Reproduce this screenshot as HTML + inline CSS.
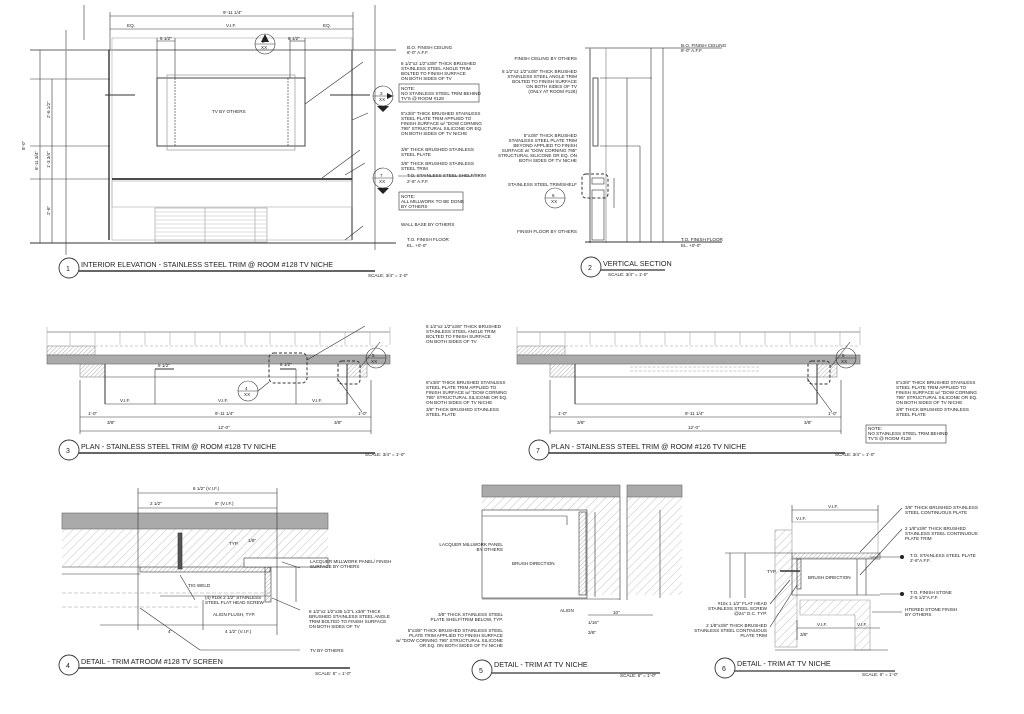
<!DOCTYPE html>
<html><head><meta charset="utf-8"><style>
html,body{margin:0;padding:0;background:#fff}
svg{display:block}
text{font-family:"Liberation Sans",sans-serif;fill:#222}
.s{font-size:4.6px}
.t{font-size:7.2px}
.c{font-size:7px}
</style></head><body>
<svg width="1024" height="714" viewBox="0 0 1024 714" xmlns="http://www.w3.org/2000/svg">
<defs>
<pattern id="h" width="6" height="6" patternUnits="userSpaceOnUse" patternTransform="rotate(45)"><line x1="0" y1="0" x2="0" y2="6" stroke="#999" stroke-width="0.6"/></pattern>
<pattern id="hd" width="3" height="3" patternUnits="userSpaceOnUse" patternTransform="rotate(45)"><line x1="0" y1="0" x2="0" y2="3" stroke="#777" stroke-width="0.6"/></pattern>
</defs>
<g stroke="#333" stroke-width="0.6" fill="none">
<!-- PANEL 1 -->
<line x1="66" y1="30" x2="66" y2="255"/><line x1="375" y1="5" x2="375" y2="250"/>
<line x1="84" y1="5" x2="84" y2="40"/>
<line x1="30" y1="50" x2="396" y2="50" stroke="#999" stroke-width="1.5"/>
<line x1="30" y1="243" x2="396" y2="243" stroke-width="1"/>
<line x1="109" y1="50" x2="109" y2="240" stroke-width="1.4"/>
<line x1="352" y1="50" x2="352" y2="240" stroke-width="1.4"/>
<rect x="112" y="38" width="240" height="202" stroke="#aaa"/>
<line x1="110" y1="16" x2="353" y2="16"/><line x1="110" y1="29" x2="353" y2="29"/>
<line x1="110" y1="12" x2="110" y2="50"/><line x1="353" y1="12" x2="353" y2="50"/>
<line x1="157" y1="41" x2="175" y2="41"/><line x1="290" y1="41" x2="305" y2="41"/>
<line x1="157" y1="38" x2="157" y2="78"/><line x1="175" y1="38" x2="175" y2="78"/>
<line x1="290" y1="38" x2="290" y2="78"/><line x1="305" y1="38" x2="305" y2="78"/>
<rect x="157" y="78" width="148" height="68" stroke-width="0.9"/>
<rect x="167" y="75" width="128" height="75" stroke="#888"/>
<line x1="175" y1="78" x2="175" y2="146" stroke-dasharray="2 1"/><line x1="288" y1="78" x2="288" y2="146" stroke-dasharray="2 1"/>
<line x1="112" y1="179" x2="352" y2="179" stroke-width="1.8"/>
<rect x="112" y="181" width="240" height="26" stroke="#aaa"/>
<rect x="155" y="208" width="112" height="34" stroke="#999"/>
<line x1="205" y1="208" x2="205" y2="242" stroke="#999"/><line x1="255" y1="208" x2="255" y2="242" stroke="#999"/>
<path d="M155 212H267M155 216H267M155 220H267M155 224H267M155 228H267M155 232H267M155 236H267M155 240H267" stroke="#bbb"/>
<line x1="30" y1="79" x2="110" y2="79"/><line x1="30" y1="146" x2="110" y2="146"/><line x1="30" y1="179" x2="110" y2="179"/>
<line x1="52" y1="79" x2="52" y2="243"/><line x1="40" y1="50" x2="40" y2="243"/>
<line x1="105" y1="95" x2="135" y2="95" stroke-width="1"/>
<line x1="330" y1="95" x2="370" y2="95" stroke-width="1"/>
<circle cx="265" cy="44" r="10"/><line x1="255" y1="44" x2="275" y2="44"/>
<circle cx="383" cy="96" r="10"/><line x1="373" y1="96" x2="393" y2="96"/>
<circle cx="383" cy="178" r="10"/><line x1="373" y1="178" x2="393" y2="178"/>
<line x1="305" y1="104" x2="363" y2="62"/><line x1="352" y1="120" x2="368" y2="113"/>
<line x1="322" y1="178" x2="360" y2="150"/><line x1="345" y1="175" x2="365" y2="163"/>
<line x1="345" y1="240" x2="363" y2="226"/>
<rect x="399" y="84" width="80" height="18"/><rect x="399" y="192" width="64" height="18"/>
<line x1="398" y1="176" x2="480" y2="176"/>
<circle cx="69" cy="268" r="10" stroke-width="0.9"/>
<line x1="79" y1="271" x2="375" y2="271" stroke-width="1.4"/>
<!-- PANEL 2 -->
<line x1="590" y1="48" x2="590" y2="243" stroke="#777" stroke-width="1.2"/>
<line x1="606" y1="48" x2="606" y2="243" stroke="#777"/>
<rect x="593" y="78" width="5" height="68" stroke-width="0.8"/>
<line x1="585" y1="48" x2="722" y2="48" stroke="#999" stroke-width="1.3"/>
<line x1="585" y1="242" x2="722" y2="242" stroke-width="1"/>
<rect x="592" y="178" width="12" height="6"/><rect x="592" y="190" width="12" height="50"/>
<rect x="582" y="174" width="26" height="24" rx="4" stroke-dasharray="3 2" stroke-width="1"/>
<circle cx="555" cy="198" r="10"/><line x1="545" y1="198" x2="565" y2="198"/>
<line x1="627" y1="78" x2="627" y2="242"/><line x1="640" y1="146" x2="640" y2="242"/>
<line x1="651" y1="48" x2="651" y2="242"/><line x1="663" y1="48" x2="663" y2="242"/>
<line x1="600" y1="78" x2="652" y2="78"/><line x1="600" y1="146" x2="640" y2="146"/>
<line x1="614" y1="178" x2="614" y2="208"/>
<circle cx="591" cy="267" r="10" stroke-width="0.9"/>
<line x1="601" y1="270" x2="665" y2="270" stroke-width="1.3"/>
<!-- PANEL 3 -->
<g id="plan">
<line x1="47" y1="332" x2="390" y2="332"/>
<path d="M47 327V345M70 332V345M95 332V345M120 332V345M145 332V345M170 332V345M195 332V345M220 332V345M245 332V345M270 332V345M295 332V345M320 332V345M345 332V345M370 332V345M390 327V345" stroke="#aaa"/>
<rect x="47" y="346" width="48" height="9" fill="url(#hd)" stroke="#888"/>
<line x1="95" y1="346" x2="390" y2="346" stroke-dasharray="3 2" stroke="#999"/>
<rect x="47" y="355" width="343" height="9" fill="#aaa" stroke="#666"/>
<rect x="80" y="364" width="25" height="13" fill="url(#hd)" stroke="#888"/>
<rect x="347" y="364" width="20" height="13" fill="url(#hd)" stroke="#888"/>
<line x1="105" y1="377" x2="347" y2="377"/>
<line x1="105" y1="364" x2="105" y2="404" stroke-width="1"/><line x1="347" y1="364" x2="347" y2="404" stroke-width="1"/>
<line x1="80" y1="380" x2="80" y2="434"/><line x1="371" y1="380" x2="371" y2="434"/>
<line x1="80" y1="417" x2="371" y2="417"/><line x1="80" y1="431" x2="371" y2="431"/>
<line x1="105" y1="404" x2="347" y2="404"/>
<rect x="338" y="361" width="22" height="23" rx="4" stroke-dasharray="3 2" stroke-width="1"/>
<circle cx="376" cy="358" r="10"/><line x1="366" y1="358" x2="386" y2="358"/>
<line x1="360" y1="368" x2="380" y2="342"/><line x1="337" y1="378" x2="362" y2="412"/>
<circle cx="69" cy="450" r="10" stroke-width="0.9"/>
<line x1="79" y1="453" x2="375" y2="453" stroke-width="1.4"/>
</g>
<line x1="155" y1="369" x2="174" y2="369" stroke-width="1"/><line x1="155" y1="369" x2="155" y2="404"/>
<rect x="269" y="353" width="38" height="30" rx="5" stroke-dasharray="3 2" stroke-width="1"/>
<line x1="280" y1="369" x2="296" y2="369" stroke-width="1"/>
<line x1="296" y1="369" x2="296" y2="404"/>
<circle cx="248" cy="391" r="10"/><line x1="238" y1="391" x2="258" y2="391"/>
<line x1="258" y1="391" x2="269" y2="382"/><line x1="307" y1="360" x2="365" y2="326"/>
<!-- PANEL 7 -->
<use href="#plan" x="470"/>
<line x1="630" y1="367" x2="760" y2="367" stroke-dasharray="3 1.5" stroke="#999"/>
<line x1="630" y1="371" x2="760" y2="371" stroke-dasharray="3 1.5" stroke="#999"/>
<rect x="866" y="425" width="80" height="18"/>
<!-- PANEL 4 -->
<rect x="62" y="513" width="266" height="16" fill="#aaa" stroke="#666"/>
<rect x="62" y="529" width="266" height="38" fill="url(#h)" stroke="none"/>
<line x1="62" y1="567" x2="140" y2="567"/>
<rect x="140" y="567" width="130" height="5" fill="url(#hd)"/>
<rect x="265" y="567" width="6" height="35" fill="url(#hd)"/>
<rect x="178" y="533" width="4" height="36" fill="#555"/>
<rect x="244" y="558" width="84" height="9" fill="#fff"/>
<line x1="62" y1="574" x2="140" y2="574"/>
<line x1="62" y1="593" x2="270" y2="593" stroke-dasharray="4 2" stroke="#999"/>
<line x1="62" y1="607" x2="200" y2="607" stroke-dasharray="4 2" stroke="#999"/>
<line x1="138" y1="493" x2="277" y2="493"/><line x1="138" y1="508" x2="277" y2="508"/>
<line x1="138" y1="488" x2="138" y2="630"/><line x1="277" y1="488" x2="277" y2="635"/>
<line x1="160" y1="596" x2="270" y2="596"/>
<line x1="100" y1="625" x2="277" y2="625"/><line x1="203" y1="600" x2="203" y2="630"/>
<line x1="296" y1="567" x2="296" y2="602"/>
<line x1="140" y1="608" x2="200" y2="650"/><line x1="200" y1="650" x2="300" y2="650"/>
<line x1="282" y1="562" x2="300" y2="568"/><line x1="272" y1="598" x2="300" y2="610"/>
<line x1="180" y1="575" x2="195" y2="600"/>
<circle cx="69" cy="665" r="10" stroke-width="0.9"/>
<line x1="79" y1="668" x2="350" y2="668" stroke-width="1.4"/>
<!-- PANEL 5 -->
<rect x="482" y="485" width="138" height="12" fill="#aaa" stroke="#666"/>
<rect x="627" y="485" width="55" height="12" fill="#aaa" stroke="#666"/>
<rect x="482" y="497" width="138" height="98" fill="url(#h)" stroke="none"/>
<rect x="627" y="497" width="55" height="98" fill="url(#h)" stroke="none"/>
<rect x="482" y="510" width="105" height="88" fill="#fff"/>
<rect x="579" y="512" width="7" height="83" fill="url(#hd)"/>
<line x1="482" y1="599" x2="620" y2="599"/><line x1="620" y1="497" x2="620" y2="600"/><line x1="627" y1="497" x2="627" y2="600"/>
<line x1="482" y1="516" x2="567" y2="516"/><line x1="567" y1="516" x2="567" y2="525"/>
<line x1="595" y1="512" x2="595" y2="597"/>
<line x1="588" y1="615" x2="653" y2="615"/><line x1="660" y1="510" x2="660" y2="598"/>
<circle cx="482" cy="670" r="10" stroke-width="0.9"/>
<line x1="492" y1="673" x2="660" y2="673" stroke-width="1.3"/>
<!-- PANEL 6 -->
<rect x="775" y="530" width="22" height="117" fill="url(#h)" stroke="#999"/>
<rect x="792" y="522" width="86" height="36" fill="#fff" stroke="#999"/>
<rect x="792" y="553" width="88" height="6" fill="url(#hd)" stroke="#555"/>
<line x1="792" y1="559" x2="792" y2="595"/><line x1="857" y1="559" x2="857" y2="595"/>
<line x1="792" y1="595" x2="880" y2="595"/>
<path d="M800 600H870V650H855V615H800Z" fill="url(#h)" stroke="#999"/>
<rect x="797" y="559" width="4" height="30" fill="url(#hd)"/>
<line x1="780" y1="571" x2="800" y2="571" stroke-width="1.5"/>
<line x1="792" y1="510" x2="878" y2="510"/><line x1="792" y1="505" x2="792" y2="522"/><line x1="878" y1="505" x2="878" y2="522"/>
<line x1="730" y1="553" x2="730" y2="598"/><line x1="745" y1="553" x2="745" y2="598"/><line x1="725" y1="553" x2="792" y2="553"/>
<line x1="866" y1="559" x2="866" y2="595"/>
<line x1="797" y1="628" x2="880" y2="628"/><line x1="797" y1="620" x2="797" y2="640"/>
<line x1="775" y1="650" x2="888" y2="650"/>
<line x1="900" y1="557" x2="870" y2="557"/><line x1="900" y1="594" x2="880" y2="594"/>
<circle cx="725" cy="668" r="10" stroke-width="0.9"/>
<line x1="735" y1="671" x2="895" y2="671" stroke-width="1.3"/>
<line x1="860" y1="552" x2="902" y2="508"/><line x1="860" y1="575" x2="902" y2="529"/>
<line x1="770" y1="604" x2="790" y2="580"/><line x1="770" y1="627" x2="797" y2="585"/>
<line x1="872" y1="612" x2="902" y2="612"/>
</g>
<g fill="#222">
<path d="M265 34l-4 8h8z M393 96l-6 -3v6z"/>
<path d="M377 106l6 6 6-6z M377 188l6 6 6-6z"/>
<circle cx="902" cy="557" r="2"/><circle cx="902" cy="594" r="2"/>
</g>
<!-- TEXT -->
<text class="s" x="223" y="14">9'-11 1/4"</text>
<text class="s" x="127" y="27">EQ.</text><text class="s" x="226" y="27">V.I.F.</text><text class="s" x="323" y="27">EQ.</text>
<text class="s" x="160" y="40">8 1/2"</text><text class="s" x="288" y="40">8 1/2"</text>
<text class="s" x="262" y="43">2</text><text class="s" x="261" y="49">XX</text>
<text class="s" x="380" y="95">3</text><text class="s" x="379" y="101">XX</text>
<text class="s" x="380" y="177">7</text><text class="s" x="379" y="183">XX</text>
<text class="s" x="212" y="113">TV BY OTHERS</text>
<text class="s" x="407" y="49">B.O. FINISH CEILING</text><text class="s" x="407" y="54">8'-0" A.F.F.</text>
<text class="s" x="401" y="65">8 1/2"x2 1/2"x3/8" THICK BRUSHED</text><text class="s" x="401" y="70">STAINLESS STEEL ANGLE TRIM</text><text class="s" x="401" y="75">BOLTED TO FINISH SURFACE</text><text class="s" x="401" y="80">ON BOTH SIDES OF TV</text>
<text class="s" x="401" y="90">NOTE:</text><text class="s" x="401" y="95">NO STAINLESS STEEL TRIM BEHIND</text><text class="s" x="401" y="100">TV'S @ ROOM #128</text>
<text class="s" x="401" y="115">5"x3/8" THICK BRUSHED STAINLESS</text><text class="s" x="401" y="120">STEEL PLATE TRIM APPLIED TO</text><text class="s" x="401" y="125">FINISH SURFACE w/ "DOW CORNING</text><text class="s" x="401" y="130">795" STRUCTURAL SILICONE OR EQ.</text><text class="s" x="401" y="135">ON BOTH SIDES OF TV NICHE</text>
<text class="s" x="401" y="151">3/8" THICK BRUSHED STAINLESS</text><text class="s" x="401" y="156">STEEL PLATE</text>
<text class="s" x="401" y="165">3/8" THICK BRUSHED STAINLESS</text><text class="s" x="401" y="170">STEEL TRIM</text>
<text class="s" x="407" y="177">T.O. STAINLESS STEEL SHELF/TRIM</text><text class="s" x="407" y="183">2'-6" A.F.F.</text>
<text class="s" x="401" y="198">NOTE:</text><text class="s" x="401" y="203">ALL MILLWORK TO BE DONE</text><text class="s" x="401" y="208">BY OTHERS</text>
<text class="s" x="401" y="226">WALL BASE BY OTHERS</text>
<text class="s" x="407" y="241">T.O. FINISH FLOOR</text><text class="s" x="407" y="247">EL. +0'-0"</text>
<text class="s" transform="translate(50,118) rotate(-90)">2'-6 1/2"</text>
<text class="s" transform="translate(50,168) rotate(-90)">1'-3 3/4"</text>
<text class="s" transform="translate(50,215) rotate(-90)">2'-6"</text>
<text class="s" transform="translate(38,170) rotate(-90)">6'-11 3/4"</text>
<text class="s" transform="translate(25,150) rotate(-90)">8'-0"</text>
<text class="c" x="66" y="271">1</text>
<text class="t" x="81" y="267">INTERIOR ELEVATION - STAINLESS STEEL TRIM @ ROOM #128 TV NICHE</text>
<text class="s" x="368" y="277">SCALE: 3/4" = 1'-0"</text>
<!-- P2 text -->
<text class="s" x="681" y="47">B.O. FINISH CEILING</text><text class="s" x="681" y="52">8'-0" A.F.F.</text>
<text class="s" x="681" y="241">T.O. FINISH FLOOR</text><text class="s" x="681" y="247">EL. +0'-0"</text>
<g text-anchor="end">
<text class="s" x="577" y="60">FINISH CEILING BY OTHERS</text>
<text class="s" x="577" y="73">8 1/2"x2 1/2"x3/8" THICK BRUSHED</text><text class="s" x="577" y="78">STAINLESS STEEL ANGLE TRIM</text><text class="s" x="577" y="83">BOLTED TO FINISH SURFACE</text><text class="s" x="577" y="88">ON BOTH SIDES OF TV</text><text class="s" x="577" y="93">(ONLY AT ROOM #128)</text>
<text class="s" x="577" y="137">5"x3/8" THICK BRUSHED</text><text class="s" x="577" y="142">STAINLESS STEEL PLATE TRIM</text><text class="s" x="577" y="147">BEYOND APPLIED TO FINISH</text><text class="s" x="577" y="152">SURFACE w/ "DOW CORNING 795"</text><text class="s" x="577" y="157">STRUCTURAL SILICONE OR EQ. ON</text><text class="s" x="577" y="162">BOTH SIDES OF TV NICHE</text>
<text class="s" x="577" y="186">STAINLESS STEEL TRIM/SHELF</text>
<text class="s" x="577" y="233">FINISH FLOOR BY OTHERS</text>
</g>
<text class="s" x="552" y="197">6</text><text class="s" x="551" y="203">XX</text>
<text class="c" x="588" y="270">2</text>
<text class="t" x="603" y="266">VERTICAL SECTION</text>
<text class="s" x="608" y="276">SCALE: 3/4" = 1'-0"</text>
<!-- P3 text -->
<text class="s" x="426" y="328">8 1/2"x2 1/2"x3/8" THICK BRUSHED</text><text class="s" x="426" y="333">STAINLESS STEEL ANGLE TRIM</text><text class="s" x="426" y="338">BOLTED TO FINISH SURFACE</text><text class="s" x="426" y="343">ON BOTH SIDES OF TV</text>
<g id="pt">
<text class="s" x="426" y="384">5"x3/8" THICK BRUSHED STAINLESS</text><text class="s" x="426" y="389">STEEL PLATE TRIM APPLIED TO</text><text class="s" x="426" y="394">FINISH SURFACE w/ "DOW CORNING</text><text class="s" x="426" y="399">795" STRUCTURAL SILICONE OR EQ.</text><text class="s" x="426" y="404">ON BOTH SIDES OF TV NICHE</text>
<text class="s" x="426" y="411">3/8" THICK BRUSHED STAINLESS</text><text class="s" x="426" y="416">STEEL PLATE</text>
<text class="s" x="372" y="357">5</text><text class="s" x="371" y="363">XX</text>
<text class="s" x="88" y="415">1'-0"</text><text class="s" x="215" y="415">9'-11 1/4"</text><text class="s" x="358" y="415">1'-0"</text>
<text class="s" x="218" y="429">12'-0"</text><text class="s" x="107" y="424">3/8"</text><text class="s" x="334" y="424">3/8"</text>
<text class="s" x="365" y="456">SCALE: 3/4" = 1'-0"</text>
</g>
<text class="s" x="120" y="402">V.I.F.</text><text class="s" x="218" y="402">V.I.F.</text><text class="s" x="312" y="402">V.I.F.</text>
<text class="s" x="158" y="367">8 1/2"</text><text class="s" x="280" y="366">8 1/2"</text>
<text class="s" x="245" y="390">4</text><text class="s" x="244" y="396">XX</text>
<text class="c" x="66" y="453">3</text>
<text class="t" x="81" y="449">PLAN - STAINLESS STEEL TRIM @ ROOM #128 TV NICHE</text>
<use href="#pt" x="470"/>
<text class="s" x="868" y="430">NOTE:</text><text class="s" x="868" y="435">NO STAINLESS STEEL TRIM BEHIND</text><text class="s" x="868" y="440">TV'S @ ROOM #128</text>
<text class="c" x="536" y="453">7</text>
<text class="t" x="551" y="449">PLAN - STAINLESS STEEL TRIM @ ROOM #126 TV NICHE</text>
<!-- P4 text -->
<text class="s" x="193" y="490">8 1/2" (V.I.F.)</text>
<text class="s" x="150" y="505">2 1/2"</text><text class="s" x="215" y="505">6" (V.I.F.)</text>
<text class="s" x="229" y="545">TYP.</text><text class="s" x="248" y="542">1/8"</text>
<text class="s" x="310" y="563">LACQUER MILLWORK PANEL/ FINISH</text><text class="s" x="310" y="568">SURFACE BY OTHERS</text>
<text class="s" x="188" y="587">TIG WELD</text>
<text class="s" x="205" y="599">(4) #10x 2 1/2" STAINLESS</text><text class="s" x="205" y="604">STEEL FLAT HEAD SCREW</text>
<text class="s" x="213" y="616">ALIGN FLUSH, TYP.</text>
<text class="s" x="309" y="613">8 1/2"x2 1/2"x35 1/2"L x3/8" THICK</text><text class="s" x="309" y="618">BRUSHED STAINLESS STEEL ANGLE</text><text class="s" x="309" y="623">TRIM BOLTED TO FINISH SURFACE</text><text class="s" x="309" y="628">ON BOTH SIDES OF TV</text>
<text class="s" x="168" y="633">4"</text><text class="s" x="225" y="633">4 1/2" (V.I.F.)</text>
<text class="s" x="310" y="652">TV BY OTHERS</text>
<text class="c" x="66" y="668">4</text>
<text class="t" x="81" y="664">DETAIL - TRIM ATROOM #128 TV SCREEN</text>
<text class="s" x="315" y="675">SCALE: 6" = 1'-0"</text>
<!-- P5 text -->
<g text-anchor="end">
<text class="s" x="503" y="546">LACQUER MILLWORK PANEL</text><text class="s" x="503" y="551">BY OTHERS</text>
<text class="s" x="503" y="616">3/8" THICK STAINLESS STEEL</text><text class="s" x="503" y="621">PLATE SHELF/TRIM BELOW, TYP.</text>
<text class="s" x="503" y="632">5"x3/8" THICK BRUSHED STAINLESS STEEL</text><text class="s" x="503" y="637">PLATE TRIM APPLIED TO FINISH SURFACE</text><text class="s" x="503" y="642">w/ "DOW CORNING 795" STRUCTURAL SILICONE</text><text class="s" x="503" y="647">OR EQ. ON BOTH SIDES OF TV NICHE</text>
</g>
<text class="s" x="512" y="565">BRUSH DIRECTION</text>
<text class="s" x="560" y="612">ALIGN</text><text class="s" x="588" y="624">1/16"</text><text class="s" x="588" y="634">3/8"</text><text class="s" x="613" y="614">10"</text>
<text class="c" x="479" y="673">5</text>
<text class="t" x="494" y="667">DETAIL - TRIM AT TV NICHE</text>
<text class="s" x="620" y="677">SCALE: 6" = 1'-0"</text>
<!-- P6 text -->
<text class="s" x="828" y="508">V.I.F.</text><text class="s" x="796" y="520">V.I.F.</text>
<text class="s" x="905" y="509">3/8" THICK BRUSHED STAINLESS</text><text class="s" x="905" y="514">STEEL CONTINUOUS PLATE</text>
<text class="s" x="905" y="530">2 1/8"x3/8" THICK BRUSHED</text><text class="s" x="905" y="535">STAINLESS STEEL CONTINUOUS</text><text class="s" x="905" y="540">PLATE TRIM</text>
<text class="s" x="910" y="557">T.O. STAINLESS STEEL PLATE</text><text class="s" x="910" y="562">2'-6"A.F.F.</text>
<text class="s" x="910" y="594">T.O. FINISH STONE</text><text class="s" x="910" y="599">2'-5 1/2"A.F.F.</text>
<text class="s" x="905" y="611">HTERED STONE FINISH</text><text class="s" x="905" y="616">BY OTHERS</text>
<text class="s" x="808" y="579">BRUSH DIRECTION</text><text class="s" x="767" y="573">TYP.</text>
<g text-anchor="end">
<text class="s" x="767" y="605">#10x 1 1/2" FLAT HEAD</text><text class="s" x="767" y="610">STAINLESS STEEL SCREW</text><text class="s" x="767" y="615">@24" O.C. TYP.</text>
<text class="s" x="767" y="627">2 1/8"x3/8" THICK BRUSHED</text><text class="s" x="767" y="632">STAINLESS STEEL CONTINUOUS</text><text class="s" x="767" y="637">PLATE TRIM</text>
</g>
<text class="s" x="817" y="626">V.I.F.</text><text class="s" x="857" y="626">V.I.F.</text><text class="s" x="800" y="636">3/8"</text>
<text class="c" x="722" y="671">6</text>
<text class="t" x="737" y="666">DETAIL - TRIM AT TV NICHE</text>
<text class="s" x="862" y="676">SCALE: 6" = 1'-0"</text>
</svg>
</body></html>
